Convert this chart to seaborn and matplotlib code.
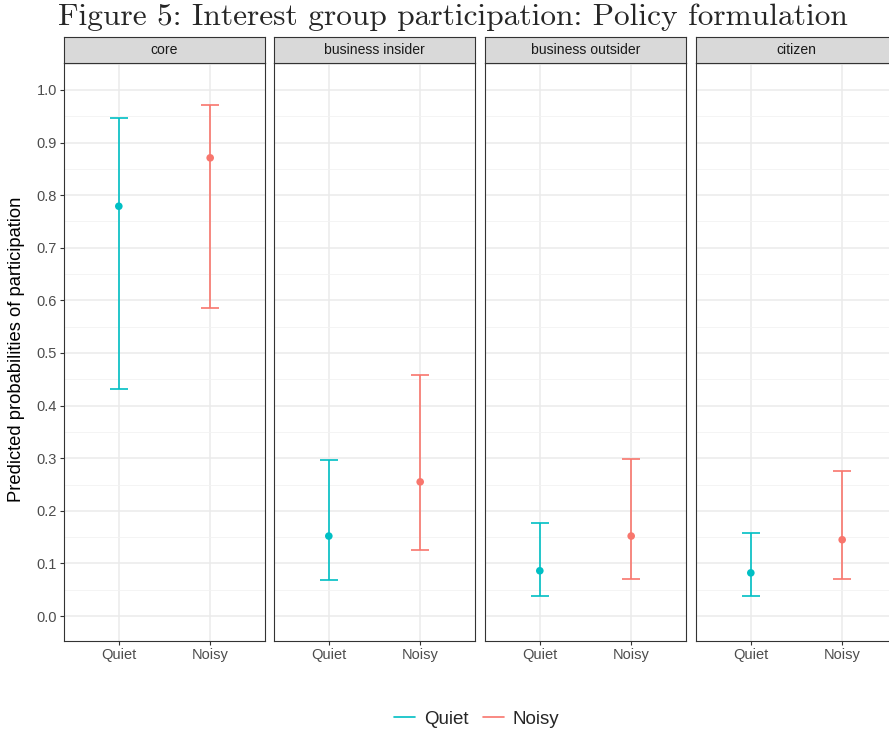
import numpy as np
import pandas as pd
import matplotlib
matplotlib.use('Agg')
import matplotlib.pyplot as plt
from matplotlib.lines import Line2D
import matplotlib.ticker as ticker
import seaborn as sns

# ── Data ─────────────────────────────────────────────────────────────────────
panels = ['core', 'business insider', 'business outsider', 'citizen']
conditions = ['Quiet', 'Noisy']
estimate = [0.779, 0.871, 0.152, 0.255, 0.086, 0.152, 0.082, 0.145]
lower = [0.432, 0.586, 0.068, 0.125, 0.038, 0.070, 0.038, 0.070]
upper = [0.946, 0.971, 0.297, 0.458, 0.177, 0.299, 0.158, 0.276]

df = pd.DataFrame({
    'panel': np.repeat(panels, 2),
    'cond': conditions * 4,
    'est': estimate,
    'lo': lower,
    'hi': upper,
})

colors = {'Quiet': '#00BFC4', 'Noisy': '#F8766D'}

# ── Style ────────────────────────────────────────────────────────────────────
sns.set_theme(style='white')
plt.rcParams['font.family'] = ['Liberation Sans', 'DejaVu Sans']

W, H = 889, 734
fig = plt.figure(figsize=(W / 100, H / 100), dpi=100)

lefts = [64, 274, 485, 696]
pw = 201
top, bot = 63, 641
strip_h = 26

for i, (left, name) in enumerate(zip(lefts, panels)):
    ax = fig.add_axes([left / W, 1 - bot / H, pw / W, (bot - top) / H])
    sub = df[df['panel'] == name]

    # error bars first, points on top
    for _, r in sub.iterrows():
        ax.errorbar([r['cond']], [r['est']],
                    yerr=[[r['est'] - r['lo']], [r['hi'] - r['est']]],
                    fmt='none', ecolor=colors[r['cond']], elinewidth=1.2,
                    capsize=6.5, capthick=1.2, zorder=3)
    sns.scatterplot(data=sub, x='cond', y='est', hue='cond', palette=colors,
                    s=30, edgecolor='none', legend=False, ax=ax, zorder=4)

    ax.set_xlim(-0.6, 1.6)
    ax.set_ylim(-0.0475, 1.0513)
    ax.yaxis.set_major_locator(ticker.MultipleLocator(0.1))
    ax.yaxis.set_minor_locator(ticker.MultipleLocator(0.05))
    ax.grid(True, which='major', color='#EBEBEB', linewidth=1.1, zorder=0)
    ax.grid(True, which='minor', axis='y', color='#F2F2F2', linewidth=0.6, zorder=0)
    ax.set_axisbelow(True)
    ax.set_xlabel('')
    ax.set_ylabel('')
    for sp in ax.spines.values():
        sp.set_color('#333333')
        sp.set_linewidth(0.8)
    ax.tick_params(axis='both', which='major', length=3, width=0.8,
                   color='#333333', labelcolor='#4D4D4D', labelsize=10.5,
                   direction='out', pad=2)
    ax.tick_params(axis='y', which='minor', length=0)
    if i == 0:
        ax.yaxis.set_major_formatter(ticker.FormatStrFormatter('%.1f'))
        ax.tick_params(axis='y', left=True)
    else:
        ax.tick_params(axis='y', left=False, labelleft=False)
    ax.tick_params(axis='x', bottom=True)

    # facet strip
    sax = fig.add_axes([left / W, 1 - top / H, pw / W, strip_h / H])
    sax.set_facecolor('#D9D9D9')
    sax.set_xticks([])
    sax.set_yticks([])
    for sp in sax.spines.values():
        sp.set_color('#333333')
        sp.set_linewidth(0.8)
    sax.text(0.5, 0.5, name, ha='center', va='center', fontsize=10.1,
             color='#1A1A1A', transform=sax.transAxes)

fig.text(17 / W, 1 - 349 / H, 'Predicted probabilities of participation',
         rotation=90, ha='center', va='center', fontsize=13.2, color='black')

fig.text(453 / W, 1 - 17 / H,
         'Figure 5: Interest group participation: Policy formulation',
         ha='center', va='center', fontsize=22.6, family='cmr10')

handles = [Line2D([0], [0], color=colors[c], lw=1.2) for c in conditions]
fig.legend(handles, conditions, loc='center', bbox_to_anchor=(477 / W, 1 - 719 / H),
           ncol=2, frameon=False, fontsize=13.5, handlelength=1.1,
           handletextpad=0.5, columnspacing=0.75)

fig.savefig('out.png', dpi=100)
